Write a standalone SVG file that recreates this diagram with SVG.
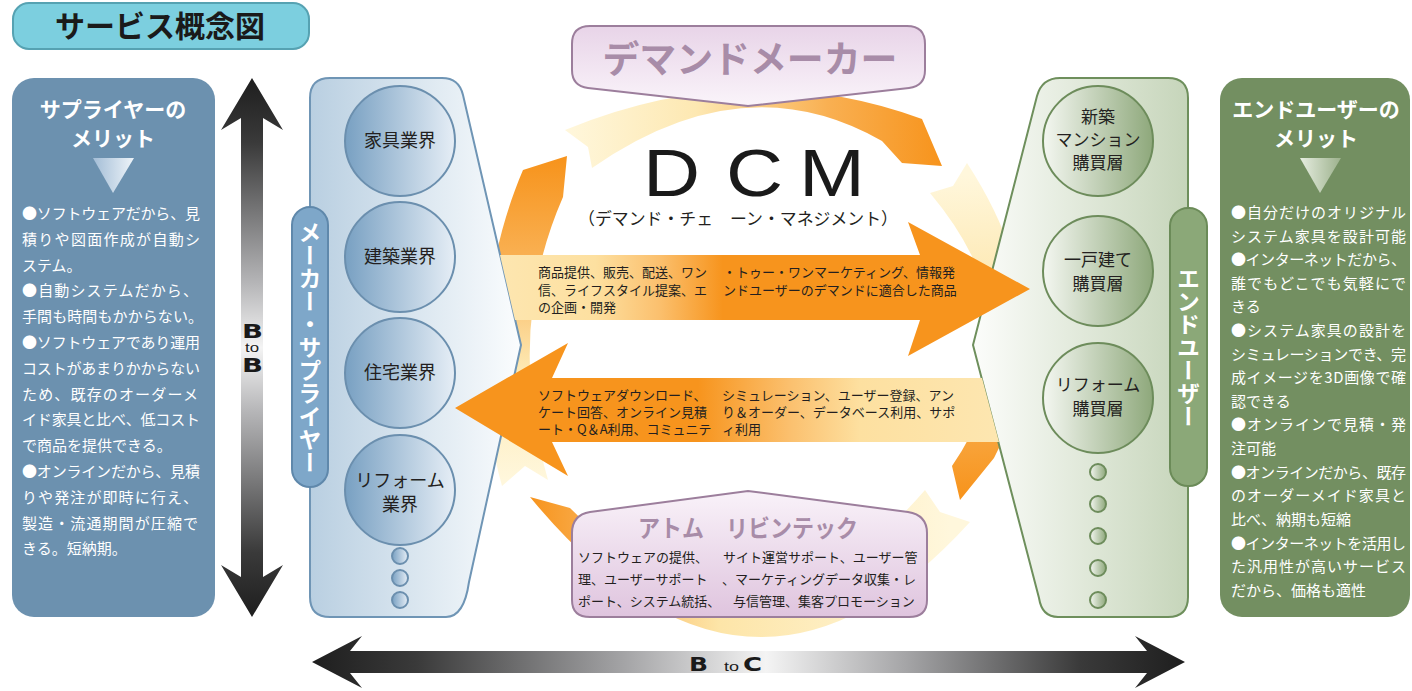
<svg xmlns="http://www.w3.org/2000/svg" width="1412" height="691" viewBox="0 0 1412 691">
<style>
.jp{font-family:"Noto Sans CJK JP","Noto Sans CJK SC",sans-serif;}
.bold{font-weight:700}
.body{font-size:15px;fill:#fff}
.sm{font-size:13px;fill:#231f20}
.ct{font-size:18px;fill:#231f20;text-anchor:middle}
.gt{font-size:17px;fill:#231f20;text-anchor:middle}
.vt{writing-mode:vertical-rl;font-size:23px;font-weight:700;fill:#fff;text-anchor:middle}
.hd{font-size:21px;font-weight:700;fill:#fff;text-anchor:middle}
.en{font-family:"DejaVu Sans","Liberation Sans",sans-serif;font-weight:700;fill:#1a1a1a}
.to{font-family:"Liberation Sans",sans-serif;fill:#1a1a1a}
.sc{stroke:#6b8fae;stroke-width:2;fill:url(#gSupCircle)}
.gc{stroke:#6d8c5b;stroke-width:2;fill:url(#gEndCircle)}
.pt{fill:#a88ca8;font-weight:700}
</style>
<defs>
<linearGradient id="gSupPanel" x1="0" x2="1" y1="0" y2="0"><stop offset="0" stop-color="#b9cfe1"/><stop offset="1" stop-color="#fbfdfe"/></linearGradient>
<linearGradient id="gSupCircle" x1="0" x2="1" y1="0" y2="0"><stop offset="0" stop-color="#78a0c2"/><stop offset="1" stop-color="#e6eef6"/></linearGradient>
<linearGradient id="gEndPanel" x1="0" x2="1" y1="0" y2="0"><stop offset="0" stop-color="#fcfdfb"/><stop offset="1" stop-color="#c6d5ba"/></linearGradient>
<linearGradient id="gEndCircle" x1="0" x2="1" y1="0" y2="0"><stop offset="0" stop-color="#f4f7f1"/><stop offset="1" stop-color="#8ea87b"/></linearGradient>
<linearGradient id="gTriL" x1="0" x2="1" y1="0" y2="0"><stop offset="0" stop-color="#a3bdd6"/><stop offset="1" stop-color="#eef4f9"/></linearGradient>
<linearGradient id="gTriR" x1="0" x2="1" y1="0" y2="0"><stop offset="0" stop-color="#e6ede0"/><stop offset="1" stop-color="#9cb18c"/></linearGradient>
<linearGradient id="gRA" gradientUnits="userSpaceOnUse" x1="500" y1="0" x2="1030" y2="0"><stop offset="0" stop-color="#fde6b0"/><stop offset="0.18" stop-color="#fde0a0"/><stop offset="0.3" stop-color="#fbc06e"/><stop offset="0.42" stop-color="#f7941d"/><stop offset="1" stop-color="#f7941d"/></linearGradient>
<linearGradient id="gLA" gradientUnits="userSpaceOnUse" x1="455" y1="0" x2="995" y2="0"><stop offset="0" stop-color="#f7941d"/><stop offset="0.45" stop-color="#f7941d"/><stop offset="0.62" stop-color="#fbc06e"/><stop offset="0.75" stop-color="#fde0a0"/><stop offset="1" stop-color="#fde6b0"/></linearGradient>
<linearGradient id="gTop" gradientUnits="userSpaceOnUse" x1="565" y1="140" x2="940" y2="140"><stop offset="0" stop-color="#fff7dc"/><stop offset="0.35" stop-color="#fde8b2"/><stop offset="0.7" stop-color="#f9b052"/><stop offset="1" stop-color="#f7941d"/></linearGradient>
<linearGradient id="gRt" gradientUnits="userSpaceOnUse" x1="950" y1="175" x2="965" y2="495"><stop offset="0" stop-color="#fff7dc"/><stop offset="0.35" stop-color="#fde8b2"/><stop offset="0.7" stop-color="#f9b052"/><stop offset="1" stop-color="#f7941d"/></linearGradient>
<linearGradient id="gBot" gradientUnits="userSpaceOnUse" x1="950" y1="0" x2="530" y2="0"><stop offset="0" stop-color="#fff7dc"/><stop offset="0.55" stop-color="#fde5a8"/><stop offset="0.85" stop-color="#f9ad4d"/><stop offset="1" stop-color="#f7941d"/></linearGradient>
<linearGradient id="gLf" gradientUnits="userSpaceOnUse" x1="0" y1="480" x2="0" y2="160"><stop offset="0" stop-color="#fff7dc"/><stop offset="0.35" stop-color="#fde8b2"/><stop offset="0.7" stop-color="#f9b052"/><stop offset="1" stop-color="#f7941d"/></linearGradient>
<linearGradient id="gBB" gradientUnits="userSpaceOnUse" x1="0" y1="78" x2="0" y2="617"><stop offset="0" stop-color="#1e1e1e"/><stop offset="0.12" stop-color="#3a3a3a"/><stop offset="0.38" stop-color="#b5b5b7"/><stop offset="0.5" stop-color="#f4f4f4"/><stop offset="0.62" stop-color="#b5b5b7"/><stop offset="0.88" stop-color="#3a3a3a"/><stop offset="1" stop-color="#1e1e1e"/></linearGradient>
<linearGradient id="gBC" gradientUnits="userSpaceOnUse" x1="312" y1="0" x2="1185" y2="0"><stop offset="0" stop-color="#1e1e1e"/><stop offset="0.12" stop-color="#3a3a3a"/><stop offset="0.36" stop-color="#a5a5a7"/><stop offset="0.52" stop-color="#f4f4f4"/><stop offset="0.68" stop-color="#a5a5a7"/><stop offset="0.88" stop-color="#3a3a3a"/><stop offset="1" stop-color="#1e1e1e"/></linearGradient>
<linearGradient id="gPTop" x1="0" x2="0" y1="0" y2="1"><stop offset="0" stop-color="#e8d4e8"/><stop offset="1" stop-color="#faf4fa"/></linearGradient>
<linearGradient id="gPBot" x1="0" x2="0" y1="0" y2="1"><stop offset="0" stop-color="#f9f2f9"/><stop offset="1" stop-color="#dfc4de"/></linearGradient>
</defs>
<rect width="1412" height="691" fill="#fff"/>

<!-- title -->
<g id="title">
<rect x="13" y="3" width="296" height="46" rx="16" fill="#7ccfdf" stroke="#56a2b2" stroke-width="2"/>
<text x="160" y="37" class="jp bold" font-size="30" text-anchor="middle" fill="#1a1a1a">サービス概念図</text>
</g>

<!-- cycle ring -->
<g id="cycle">
<path d="M565,130 L588,147 L592,168 Q744,62 882,141 L902,163 L942,166 L922,119 Q747,55 565,130 Z" fill="url(#gTop)"/>
<path d="M967,163 L953,186 L930,193 Q1045,330 952,466 L960,500 L994,458 Q1068,318 967,163 Z" fill="url(#gRt)"/>
<path d="M925,490 L940,512 L970,522 Q750,764 530,497 L570,508 Q752,691 925,490 Z" fill="url(#gBot)"/>
<path d="M523,170 L567,156 L563,197 Q505,330 548,480 L525,466 L502,486 C478,400 476,280 523,170 Z" fill="url(#gLf)"/>
</g>

<!-- supplier column -->
<g id="suppliers">
<path d="M330,78 L442,78 Q459,78 463,95 L521,345 L469,582 Q464,617 446,617 L330,617 Q310,617 310,597 L310,98 Q310,78 330,78 Z" fill="url(#gSupPanel)" stroke="#6f95b5" stroke-width="2"/>
<g id="n-kagu"><circle cx="400" cy="141" r="55" class="sc"/><text x="400" y="147" class="jp ct">家具業界</text></g>
<g id="n-kenchiku"><circle cx="400" cy="257" r="55" class="sc"/><text x="400" y="263" class="jp ct">建築業界</text></g>
<g id="n-jutaku"><circle cx="400" cy="373" r="55" class="sc"/><text x="400" y="379" class="jp ct">住宅業界</text></g>
<g id="n-reform"><circle cx="400" cy="490" r="55" class="sc"/><text x="400" y="487" class="jp ct">リフォーム</text><text x="400" y="511" class="jp ct">業界</text></g>
<circle cx="400" cy="556" r="8" class="sc"/><circle cx="400" cy="578" r="8" class="sc"/><circle cx="400" cy="600" r="8" class="sc"/>
<g id="supplier-label"><rect x="292" y="207" width="36" height="280" rx="18" fill="#7ea7c9" stroke="#5f88ab" stroke-width="2"/>
<text x="310" y="347" class="jp vt">メーカー・サプライヤー</text></g>
</g>

<!-- end user column -->
<g id="endusers">
<path d="M1168,78 Q1188,78 1188,98 L1188,597 Q1188,617 1168,617 L1058,617 Q1042,617 1039,598 L973,345 L1037,96 Q1042,78 1060,78 Z" fill="url(#gEndPanel)" stroke="#6e8f5c" stroke-width="2"/>
<g id="n-mansion"><circle cx="1098" cy="141" r="55" class="gc"/><text x="1098" y="123" class="jp gt">新築</text><text x="1098" y="146" class="jp gt">マンション</text><text x="1098" y="169" class="jp gt">購買層</text></g>
<g id="n-house"><circle cx="1098" cy="271" r="55" class="gc"/><text x="1098" y="266" class="jp gt">一戸建て</text><text x="1098" y="290" class="jp gt">購買層</text></g>
<g id="n-reformbuy"><circle cx="1098" cy="398" r="55" class="gc"/><text x="1098" y="391" class="jp gt">リフォーム</text><text x="1098" y="415" class="jp gt">購買層</text></g>
<circle cx="1098" cy="472" r="8" class="gc"/><circle cx="1098" cy="504" r="8" class="gc"/><circle cx="1098" cy="536" r="8" class="gc"/><circle cx="1098" cy="568" r="8" class="gc"/><circle cx="1098" cy="600" r="8" class="gc"/>
<g id="enduser-label"><rect x="1170" y="208" width="37" height="278" rx="18" fill="#8ba878" stroke="#6b8b58" stroke-width="2"/>
<text x="1188.5" y="347" class="jp vt" font-size="24">エンドユーザー</text></g>
</g>

<!-- flow arrows -->
<g id="connectors">
<path d="M500,255 L920,255 L908,222 L1030,289 L908,356 L920,320 L515,320 Z" fill="url(#gRA)"/>
<path d="M982,378 L552,378 L568,343 L455,408 L568,476 L552,442 L999,442 Z" fill="url(#gLA)"/>
<g class="jp sm">
<text x="538" y="277">商品提供、販売、配送、ワン</text>
<text x="538" y="295">信、ライフスタイル提案、エ</text>
<text x="538" y="312">の企画・開発</text>
<text x="723" y="277">・トゥー・ワンマーケティング、情報発</text>
<text x="723" y="295">ンドユーザーのデマンドに適合した商品</text>
<text x="538" y="400">ソフトウェアダウンロード、</text>
<text x="538" y="417">ケート回答、オンライン見積</text>
<text x="538" y="434">ート・Q＆A利用、コミュニテ</text>
<text x="722" y="400">シミュレーション、ユーザー登録、アン</text>
<text x="722" y="417">り＆オーダー、データベース利用、サポ</text>
<text x="722" y="434">ィ利用</text>
</g>
<path d="M252,78 L283,130 L263,118 L263,577 L283,565 L252,617 L221,565 L241,577 L241,118 L221,130 Z" fill="url(#gBB)"/>
<path d="M312,662 L362,636 L350,651 L1147,651 L1135,636 L1185,662 L1135,688 L1147,673 L350,673 L362,688 Z" fill="url(#gBC)"/>
<text x="242" y="338" class="en" font-size="20" textLength="21" lengthAdjust="spacingAndGlyphs">B</text>
<text x="245" y="352" class="to" font-size="12" textLength="14" lengthAdjust="spacingAndGlyphs">to</text>
<text x="242" y="372" class="en" font-size="20" textLength="21" lengthAdjust="spacingAndGlyphs">B</text>
<text x="689" y="671" class="en" font-size="20" textLength="19" lengthAdjust="spacingAndGlyphs">B</text>
<text x="724" y="671" class="to" font-size="12" textLength="15" lengthAdjust="spacingAndGlyphs">to</text>
<text x="743" y="671" class="en" font-size="20" textLength="19" lengthAdjust="spacingAndGlyphs">C</text>
</g>

<!-- DCM center -->
<g id="dcm">
<text transform="translate(643,196) scale(1.18,1)" font-family="Liberation Sans, Arial, sans-serif" font-size="67" fill="#1a1a1a"><tspan x="0">D</tspan><tspan x="70.3">C</tspan><tspan x="132.2">M</tspan></text>
<text x="578" y="225" class="jp" font-size="17" fill="#231f20" textLength="320" lengthAdjust="spacingAndGlyphs">（デマンド・チェ　ーン・マネジメント）</text>
</g>

<g id="demand-maker">
<path d="M590,26 L907,26 Q925,26 925,44 L925,70 Q925,86 909,88 L748,106 L588,88 Q572,86 572,70 L572,44 Q572,26 590,26 Z" fill="url(#gPTop)" stroke="#9c7e9c" stroke-width="2"/>
<text x="750" y="73" class="jp pt" font-size="37" text-anchor="middle" textLength="295" lengthAdjust="spacingAndGlyphs">デマンドメーカー</text>
</g>

<g id="atom">
<path d="M590,512 L748,491 L908,512 Q927,515 927,533 L927,600 Q927,617 909,617 L590,617 Q572,617 572,600 L572,533 Q572,515 590,512 Z" fill="url(#gPBot)" stroke="#9c7e9c" stroke-width="2"/>
<text x="748" y="537" class="jp pt" font-size="24" text-anchor="middle" textLength="220" lengthAdjust="spacingAndGlyphs">アトム　リビンテック</text>
<g class="jp sm">
<text x="578" y="562">ソフトウェアの提供、</text>
<text x="578" y="584">理、ユーザーサポート</text>
<text x="578" y="606">ポート、システム統括、</text>
<text x="723" y="562">サイト運営サポート、ユーザー管</text>
<text x="722" y="584">、マーケティングデータ収集・レ</text>
<text x="733" y="606">与信管理、集客プロモーション</text>
</g>
</g>

<!-- supplier merits -->
<g id="supplier-merit">
<rect x="12" y="78" width="203" height="539" rx="22" fill="#6c91af"/>
<text x="113" y="117" class="jp hd">サプライヤーの</text>
<text x="113" y="146" class="jp hd">メリット</text>
<polygon points="93,158 134,158 113,193" fill="url(#gTriL)"/>
<g class="jp body">
<text x="22" y="219" textLength="178" lengthAdjust="spacing">●ソフトウェアだから、見</text>
<text x="22" y="245" textLength="178" lengthAdjust="spacing">積りや図面作成が自動シ</text>
<text x="22" y="271">ステム。</text>
<text x="22" y="296" textLength="176" lengthAdjust="spacing">●自動システムだから、</text>
<text x="22" y="322" textLength="181" lengthAdjust="spacing">手間も時間もかからない。</text>
<text x="22" y="348" textLength="178" lengthAdjust="spacing">●ソフトウェアであり運用</text>
<text x="22" y="374" textLength="178" lengthAdjust="spacing">コストがあまりかからない</text>
<text x="22" y="400" textLength="176" lengthAdjust="spacing">ため、既存のオーダーメ</text>
<text x="22" y="425" textLength="178" lengthAdjust="spacing">イド家具と比べ、低コスト</text>
<text x="22" y="451">で商品を提供できる。</text>
<text x="22" y="477" textLength="178" lengthAdjust="spacing">●オンラインだから、見積</text>
<text x="22" y="503" textLength="176" lengthAdjust="spacing">りや発注が即時に行え、</text>
<text x="22" y="529" textLength="176" lengthAdjust="spacing">製造・流通期間が圧縮で</text>
<text x="22" y="554">きる。短納期。</text>
</g>
</g>

<!-- end user merits -->
<g id="enduser-merit">
<rect x="1220" y="78" width="190" height="539" rx="22" fill="#738f61"/>
<text x="1316" y="117" class="jp hd">エンドユーザーの</text>
<text x="1316" y="146" class="jp hd">メリット</text>
<polygon points="1300,158 1341,158 1320,193" fill="url(#gTriR)"/>
<g class="jp body">
<text x="1231" y="218" textLength="175" lengthAdjust="spacing">●自分だけのオリジナル</text>
<text x="1231" y="242" textLength="175" lengthAdjust="spacing">システム家具を設計可能</text>
<text x="1231" y="265" textLength="175" lengthAdjust="spacing">●インターネットだから、</text>
<text x="1231" y="289" textLength="175" lengthAdjust="spacing">誰でもどこでも気軽にで</text>
<text x="1231" y="312">きる</text>
<text x="1231" y="336" textLength="175" lengthAdjust="spacing">●システム家具の設計を</text>
<text x="1231" y="360" textLength="175" lengthAdjust="spacing">シミュレーションでき、完</text>
<text x="1231" y="383" textLength="175" lengthAdjust="spacing">成イメージを3D画像で確</text>
<text x="1231" y="407">認できる</text>
<text x="1231" y="430" textLength="175" lengthAdjust="spacing">●オンラインで見積・発</text>
<text x="1231" y="454">注可能</text>
<text x="1231" y="478" textLength="175" lengthAdjust="spacing">●オンラインだから、既存</text>
<text x="1231" y="501" textLength="175" lengthAdjust="spacing">のオーダーメイド家具と</text>
<text x="1231" y="525">比べ、納期も短縮</text>
<text x="1231" y="549" textLength="175" lengthAdjust="spacing">●インターネットを活用し</text>
<text x="1231" y="572" textLength="175" lengthAdjust="spacing">た汎用性が高いサービス</text>
<text x="1231" y="596">だから、価格も適性</text>
</g>
</g>
</svg>
